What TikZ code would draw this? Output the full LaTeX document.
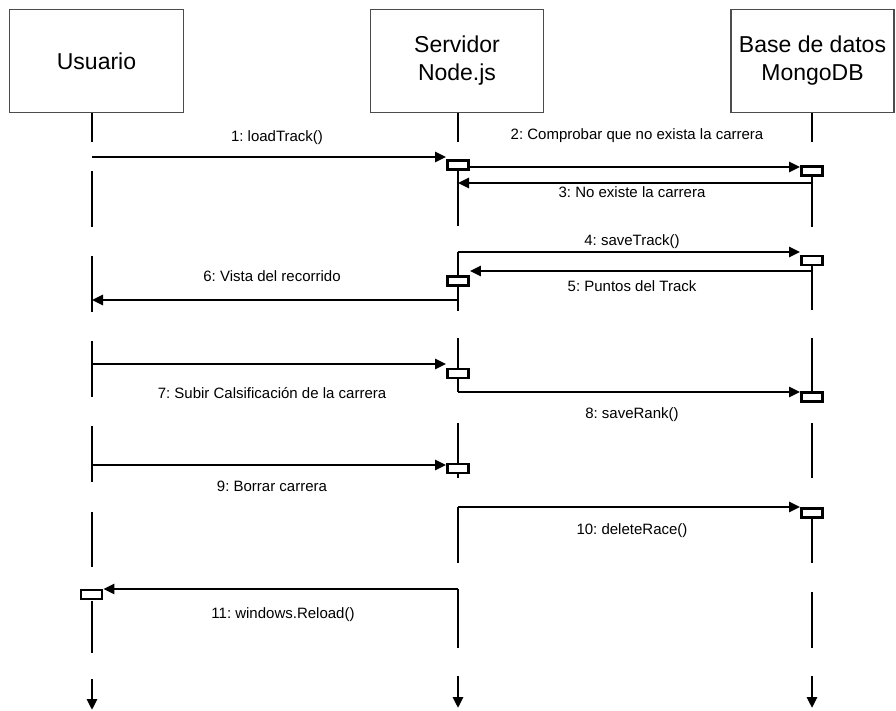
\documentclass[tikz,border=0pt]{standalone}
\usepackage{fontspec}
\setmainfont{Liberation Sans}
\usetikzlibrary{arrows.meta}
\frenchspacing

\tikzset{
  head/.style={draw=black!70, line width=1.2pt, minimum height=103pt, inner sep=0pt,
    align=center, font=\fontsize{23}{28}\selectfont},
  life/.style={line width=2.9pt},
  act/.style={draw, line width=2.9pt, fill=white, minimum width=21pt,
    minimum height=9pt, inner sep=0pt},
  msg/.style={line width=2.5pt, -{Triangle[length=11pt,width=10pt]}},
  lbl/.style={anchor=base, inner sep=0pt, font=\fontsize{15}{18}\selectfont},
  endtip/.style={line width=2.9pt, -{Triangle[length=11pt,width=10pt]}}
}

\begin{document}
\begin{tikzpicture}[x=1pt, y=-1pt]
\useasboundingbox (0,0) rectangle (896,711);

% participants
\node[head, minimum width=174pt] (usr) at (96.5,61) {Usuario};
\node[head, minimum width=173pt] (srv) at (457,61) {Servidor\\Node.js};
\node[head, minimum width=163pt] (db)  at (812.5,61) {Base de datos\\MongoDB};

% lifeline segments: Usuario (x=92)
\coordinate (u0a) at (92,113); \coordinate (u0b) at (92,142);
\coordinate (u1a) at (92,171); \coordinate (u1b) at (92,227);
\coordinate (u2a) at (92,256); \coordinate (u2b) at (92,312);
\coordinate (u3a) at (92,341); \coordinate (u3b) at (92,397);
\coordinate (u4a) at (92,426); \coordinate (u4b) at (92,482);
\coordinate (u5a) at (92,512); \coordinate (u5b) at (92,567);
\coordinate (u6a) at (92,601); \coordinate (u6b) at (92,653);
\coordinate (u7a) at (92,679); \coordinate (u7b) at (92,710);
% Servidor (x=458)
\coordinate (s0a) at (458,113); \coordinate (s0b) at (458,142);
\coordinate (s1a) at (458,171); \coordinate (s1b) at (458,226);
\coordinate (s2a) at (458,252); \coordinate (s2b) at (458,311);
\coordinate (s3a) at (458,338); \coordinate (s3b) at (458,392);
\coordinate (s4a) at (458,423); \coordinate (s4b) at (458,478);
\coordinate (s5a) at (458,507); \coordinate (s5b) at (458,563);
\coordinate (s6a) at (458,589); \coordinate (s6b) at (458,648);
\coordinate (s7a) at (458,676); \coordinate (s7b) at (458,708);
% MongoDB (x=812)
\coordinate (d0a) at (812,113); \coordinate (d0b) at (812,142);
\coordinate (d1a) at (812,171); \coordinate (d1b) at (812,227);
\coordinate (d2a) at (812,260); \coordinate (d2b) at (812,310);
\coordinate (d3a) at (812,338); \coordinate (d3b) at (812,397);
\coordinate (d4a) at (812,423); \coordinate (d4b) at (812,478);
\coordinate (d5a) at (812,513); \coordinate (d5b) at (812,563);
\coordinate (d6a) at (812,592); \coordinate (d6b) at (812,648);
\coordinate (d7a) at (812,676); \coordinate (d7b) at (812,708);

\foreach \p in {u,s,d}{
  \foreach \i in {0,...,6}{
    \draw[life] (\p\i a) -- (\p\i b);
  }
  \draw[endtip] (\p7a) -- (\p7b);
}

% activation boxes
\node[act] (sa1) at (458,165) {};
\node[act] (da1) at (812,171) {};
\node[act] (da2) at (812,260.5) {};
\node[act] (sa2) at (458,281) {};
\node[act] (sa3) at (458,373.5) {};
\node[act] (da3) at (812,397) {};
\node[act] (sa4) at (458,468.5) {};
\node[act] (da4) at (812,513) {};
\node[act] (ua1) at (91.5,594.5) {};

% message anchors on lifelines
\coordinate (m1s) at (92,157);
\coordinate (m2s) at (470,167);
\coordinate (m3s) at (812,183);
\coordinate (m3e) at (458,183);
\coordinate (m5s) at (812,271);
\coordinate (m6s) at (458,300);
\coordinate (m6e) at (92,300);
\coordinate (m7s) at (92,364);
\coordinate (m9s) at (92,465);

% messages
\draw[msg] (m1s) -- (m1s -| sa1.west);
\draw[msg] (m2s) -- (m2s -| da1.west);
\draw[msg] (m3s) -- (m3e);
\draw[msg] (s2a) -- (s2a -| da2.west);
\draw[msg] (m5s) -- (m5s -| sa2.east);
\draw[msg] (m6s) -- (m6e);
\draw[msg] (m7s) -- (m7s -| sa3.west);
\draw[msg] (s3b) -- (s3b -| da3.west);
\draw[msg] (m9s) -- (m9s -| sa4.west);
\draw[msg] (s5a) -- (s5a -| da4.west);
\draw[msg] (s6a) -- (s6a -| ua1.east);

% message labels
\node[lbl] (l1)  at (277,142) {1: loadTrack()};
\node[lbl] (l2)  at (637,140) {2: Comprobar que no exista la carrera};
\node[lbl] (l3)  at (632,198) {3: No existe la carrera};
\node[lbl] (l4)  at (632,245) {4: saveTrack()};
\node[lbl] (l5)  at (632,291) {5: Puntos del Track};
\node[lbl] (l6)  at (272,281) {6: Vista del recorrido};
\node[lbl] (l7)  at (272,398) {7: Subir Calsificación de la carrera};
\node[lbl] (l8)  at (632,418) {8: saveRank()};
\node[lbl] (l9)  at (272,491) {9: Borrar carrera};
\node[lbl] (l10) at (632,534) {10: deleteRace()};
\node[lbl] (l11) at (283,618) {11: windows.Reload()};
\end{tikzpicture}
\end{document}
